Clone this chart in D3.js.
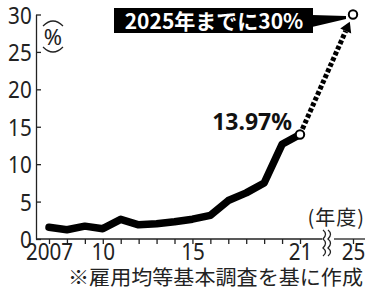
<!DOCTYPE html>
<html><head><meta charset="utf-8">
<script src="https://cdn.jsdelivr.net/npm/d3@7/dist/d3.min.js"></script>
<style>
html,body{margin:0;padding:0;background:#fff;}
svg{display:block;}
</style></head>
<body><svg id="c" width="365" height="298"></svg>
<script>
const years = [2007,2008,2009,2010,2011,2012,2013,2014,2015,2016,2017,2018,2019,2020,2021];
const rates = [1.56,1.23,1.72,1.38,2.63,1.89,2.03,2.30,2.65,3.16,5.14,6.16,7.48,12.65,13.97];
const targetYear = 2025;
const targetRate = 30;
const yTicks = [0,5,10,15,20,25,30];
const xTickLabels = {2007:"2007",2010:"10",2015:"15",2021:"21",2025:"25"};
const titleText = "2025年までに30%";
const lastLabel = "13.97%";
const unitLabel = "%";
const yearUnit = "(年度)";
const source = "※雇用均等基本調査を基に作成";

const svg = d3.select("#c");
const numFont = "'Noto Sans','Noto Sans CJK JP',sans-serif";
const jpFont = "'Noto Sans CJK JP',sans-serif";

const x = d3.scaleLinear().domain([2007,2021,2025]).range([49,300,353]);
const y = d3.scaleLinear().domain([0,30]).range([239,14.5]);

// Y axis
const yAxis = d3.axisLeft(y).tickValues(yTicks).tickSizeInner(-5).tickSizeOuter(0).tickPadding(5);
const gy = svg.append("g").attr("transform","translate(36,0)").call(yAxis);
gy.select(".domain").attr("stroke","#222").attr("stroke-width",1.3);
gy.selectAll(".tick line").attr("stroke","#222").attr("stroke-width",1.3);
gy.selectAll(".tick text").attr("font-family",numFont).attr("font-size",24).attr("fill","#222")
  .attr("transform","scale(0.86,1)").attr("dy","0.36em");

// X axis
const xTickVals = years.concat([targetYear]);
const xAxis = d3.axisBottom(x).tickValues(xTickVals).tickSize(5).tickSizeOuter(0).tickPadding(0)
  .tickFormat(d => xTickLabels[d] || "");
const gx = svg.append("g").attr("transform","translate(0,239)").call(xAxis);
gx.select(".domain").remove();
gx.selectAll(".tick line").attr("stroke","#222").attr("stroke-width",1.3);
gx.selectAll(".tick text").attr("font-family",numFont).attr("font-size",24).attr("fill","#222")
  .attr("transform","scale(0.86,1)").attr("dy","0.68em");
// x axis line with break
svg.append("line").attr("x1",36).attr("x2",322).attr("y1",239).attr("y2",239).attr("stroke","#222").attr("stroke-width",1.3);
svg.append("line").attr("x1",334).attr("x2",365).attr("y1",239).attr("y2",239).attr("stroke","#222").attr("stroke-width",1.3);
// break marks
[0,5].forEach(o=>{
  svg.append("path").attr("d",`M${323+o},230 q5,4 0,9 q5,4 0,9 q5,4 0,8`)
    .attr("fill","none").attr("stroke","#222").attr("stroke-width",1.3);
});

// main line
const line = d3.line().x((d,i)=>x(years[i])).y(d=>y(d)).curve(d3.curveLinear);
svg.append("path").datum(rates).attr("d",line).attr("fill","none").attr("stroke","#000")
  .attr("stroke-width",7.5).attr("stroke-linejoin","round").attr("stroke-linecap","round");

// dashed arrow to target
const x0 = x(2021), y0 = y(rates[rates.length-1]);
const x1 = x(targetYear), y1 = y(targetRate);
const ang = Math.atan2(y1-y0, x1-x0);
const tipX = x1 - Math.cos(ang)*8, tipY = y1 - Math.sin(ang)*8;
const baseX = tipX - Math.cos(ang)*10, baseY = tipY - Math.sin(ang)*10;
svg.append("line").attr("x1",x0+Math.cos(ang)*6).attr("y1",y0+Math.sin(ang)*6).attr("x2",baseX).attr("y2",baseY)
  .attr("stroke","#000").attr("stroke-width",5).attr("stroke-dasharray","4,2.2");
const px = -Math.sin(ang), py = Math.cos(ang);
svg.append("path").attr("d",`M${tipX},${tipY} L${baseX+px*6},${baseY+py*6} L${baseX-px*6},${baseY-py*6} Z`).attr("fill","#000");

// title box + pointer
svg.append("path").attr("d",`M312,15 L346,16 L346,19 L312,27 Z`).attr("fill","#000");
svg.append("rect").attr("x",114).attr("y",8).attr("width",199).attr("height",25).attr("fill","#000");
svg.append("text").attr("x",214).attr("y",29).attr("text-anchor","middle").attr("font-family",jpFont)
  .attr("font-weight","bold").attr("font-size",21).attr("fill","#fff").text(titleText);

// circles
svg.append("circle").attr("cx",x0).attr("cy",y0).attr("r",4.2).attr("fill","#fff").attr("stroke","#000").attr("stroke-width",2);
svg.append("circle").attr("cx",x1).attr("cy",y1).attr("r",4.2).attr("fill","#fff").attr("stroke","#000").attr("stroke-width",2);

// 13.97% label
svg.append("text").attr("x",292).attr("y",130).attr("text-anchor","end").attr("font-family",numFont)
  .attr("font-weight","bold").attr("font-size",23).attr("fill","#111").text(lastLabel);

// unit label with arcs
svg.append("text").attr("x",53).attr("y",45).attr("text-anchor","middle").attr("font-family",numFont)
  .attr("font-size",22).attr("fill","#222").text(unitLabel);
svg.append("path").attr("d","M43,26 Q53,16 63,26").attr("fill","none").attr("stroke","#222").attr("stroke-width",1.2);
svg.append("path").attr("d","M43,47 Q53,57 63,47").attr("fill","none").attr("stroke","#222").attr("stroke-width",1.2);

// year unit
svg.append("text").attr("x",365).attr("y",225).attr("text-anchor","end").attr("font-family",jpFont)
  .attr("font-size",20).attr("letter-spacing",1).attr("fill","#222").text(yearUnit);

// source
svg.append("text").attr("x",68).attr("y",285).attr("font-family",jpFont)
  .attr("font-size",20).attr("fill","#222").attr("textLength",295).attr("lengthAdjust","spacingAndGlyphs").text(source);
</script></body></html>
